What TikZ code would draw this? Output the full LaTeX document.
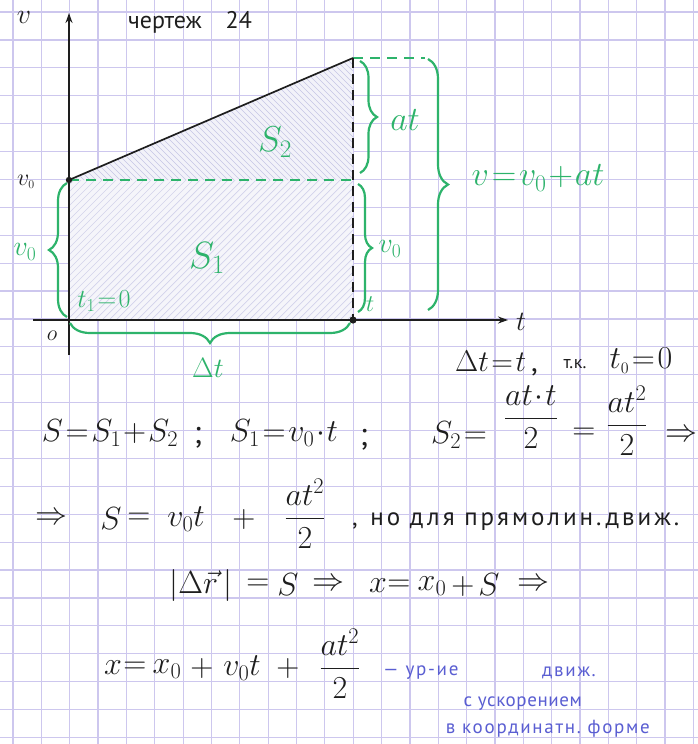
\RequirePackage{fix-cm}
\documentclass[tikz,border=0pt]{standalone}
\usepackage{amsmath}
\usepackage{fontspec}
\setmainfont{PT Sans}
\newfontfamily\bluefont{PT Sans}[LetterSpace=3]
\newfontfamily\bluewide{PT Sans}[LetterSpace=9]
\newfontfamily\handfont{PT Sans}[LetterSpace=12]
\usetikzlibrary{decorations.pathreplacing,arrows.meta}
\definecolor{gridc}{HTML}{CDC7EE}
\definecolor{grn}{HTML}{2DB36B}
\definecolor{bluehand}{HTML}{5A5ED2}
\definecolor{hatchc}{HTML}{A8A8D8}
\definecolor{inkc}{HTML}{1E1E1E}
\newcommand{\fs}[1]{\fontsize{#1}{#1}\selectfont}
\AtBeginDocument{\thickmuskip=1.5mu\medmuskip=1mu}
\begin{document}
\begin{tikzpicture}[x=1pt,y=-1pt,
  gridline/.style={draw=gridc, line width=1.2pt},
  axisline/.style={draw=inkc, line width=1.7pt, -{Stealth[length=10pt,width=7pt]}},
  gbrace/.style={draw=grn, line width=2.2pt, decorate, decoration={brace, amplitude=#1}},
  gdash/.style={draw=grn, line width=2.2pt, dash pattern=on 10pt off 7pt},
  kdash/.style={draw=inkc, line width=1.7pt, dash pattern=on 10pt off 6pt},
  glabel/.style={text=grn, inner sep=0pt},
  klabel/.style={text=inkc, inner sep=0pt},
  fm/.style={text=inkc, inner sep=0pt, font=\fs{32}},
  blabel/.style={text=bluehand, inner sep=0pt, font=\bluefont\fs{19}},
  hatchline/.style={draw=hatchc, line width=0.7pt},
]
\useasboundingbox (0,0) rectangle (698,744);
\fill[white] (0,0) rectangle (698,744);
% grid paper
\foreach \k in {0,...,24} \draw[gridline] ({13+28.35*\k},0) -- ({13+28.35*\k},744);
\foreach \k in {0,...,26} \draw[gridline] (0,{12+27.9*\k}) -- (698,{12+27.9*\k});

% key points
\coordinate (O) at (69,320);
\coordinate (V0) at (69,180);
\coordinate (Top) at (353,58);
\coordinate (B) at (353,180);
\coordinate (T) at (353,320);
\coordinate (TopR) at (425,58);
\coordinate (VS) at (69,355);
\coordinate (VE) at (69,13);
\coordinate (TS) at (33,320);
\coordinate (TE) at (508,320);

% hatching S1
\begin{scope}
\clip (V0) -- (B) -- (T) -- (O) -- cycle;
\fill[hatchc!12] (V0) rectangle (T);
\foreach \i in {-300,-293,...,360} \draw[hatchline, opacity=0.45] (\i,330) -- ++(300,-300);
\end{scope}
% hatching S2
\begin{scope}
\clip (V0) -- (Top) -- (B) -- cycle;
\fill[hatchc!15] (V0) -- (Top) -- (B) -- cycle;
\foreach \i in {-200,-194,...,360} \draw[hatchline, opacity=0.6] (\i,40) -- ++(200,200);
\end{scope}

% graph lines
\draw[gdash] (V0) -- (B);
\draw[gdash] (Top) -- (TopR);
\draw[kdash] (Top) -- (T);
\draw[draw=inkc, line width=1.7pt] (V0) -- (Top);
\draw[axisline] (VS) -- (VE);
\draw[axisline] (TS) -- (TE);
\fill[inkc] (V0) circle (3.2);
\fill[inkc] (T) circle (3.6);

% braces
\draw[gbrace=17pt] (360,61) -- (360,173);
\draw[gbrace=14pt] (358,184) -- (358,312);
\draw[gbrace=20pt] (428,59) -- (428,310);
\draw[gbrace=18pt] (67,317) -- (67,183);
\draw[gbrace=20pt] (350,323) -- (70,323);

% black labels
\node[klabel, font=\fs{28}] (lv) at (24,17) {$v$};
\node[klabel, font=\fs{24}] (title) at (190,22) {чертеж\quad 24};
\node[klabel, font=\fs{24}] (lv0) at (26,182) {$v_{\scriptscriptstyle 0}$};
\node[klabel, font=\fs{22}] (lo) at (52,336) {$o$};
\node[klabel, font=\fs{28}] (lt) at (521,322) {$t$};
\node[klabel, font=\fs{30}, anchor=base west] (dtt1) at (455,371) {$\Delta t=t$\,,};
\node[klabel, font=\fs{18}] (dtt3) at (575,364) {т.к.};
\node[klabel, font=\fs{32}] (dtt4) at (641,361) {$t_{\scriptscriptstyle 0}=0$};

% green labels
\node[glabel, font=\fs{36}] (S2) at (275,142) {$S_2$};
\node[glabel, font=\fs{38}] (S1) at (207,258) {$S_1$};
\node[glabel, font=\fs{34}] (at) at (405,120) {$at$};
\node[glabel, font=\fs{34}] (vfull) at (538,178) {$v=v_0+at$};
\node[glabel, font=\fs{28}] (v0r) at (390,249) {$v_0$};
\node[glabel, font=\fs{28}] (v0l) at (25,252) {$v_0$};
\node[glabel, font=\fs{26}] (t1) at (104,301) {$t_1=0$};
\node[glabel, font=\fs{24}] (tg) at (370,304) {$t$};
\node[glabel, font=\fs{28}] (dt) at (208,368) {$\Delta t$};

% formulas line 1
\node[fm] (f1a) at (110,433) {$S=S_1+S_2$};
\node[fm] (f1b) at (198,438) {;};
\node[fm] (f1c) at (284,433) {$S_1=v_0\cdot t$};
\node[fm] (f1d) at (364,440) {;};
\node[fm] (f1e) at (459,435) {$S_2=$};
\node[fm] (f1f) at (531,417) {$\dfrac{at\cdot t}{2}$};
\node[fm] (f1g) at (584,434) {$=$};
\node[fm] (f1h) at (627,421) {$\dfrac{at^2}{2}$};
\node[fm] (f1i) at (681,436) {$\Rightarrow$};
% line 2
\node[fm] (f2a) at (51,519) {$\Rightarrow$};
\node[fm] (f2b) at (111,519) {$S$};
\node[fm] (f2c) at (139,519) {$=$};
\node[fm] (f2d) at (186,519) {$v_0t$};
\node[fm] (f2e) at (244,519) {$+$};
\node[fm] (f2f) at (305,514) {$\dfrac{at^2}{2}$};
\node[klabel, font=\handfont\fs{25}, anchor=west] (f2g) at (352,522) {,\enspace но для прямолин.\,движ.};
% line 3
\node[fm] (f3a) at (201,585) {$|\Delta\vec{r}\,|$};
\node[fm] (f3b) at (258,585) {$=$};
\node[fm] (f3c) at (288,585) {$S$};
\node[fm] (f3d) at (328,585) {$\Rightarrow$};
\node[fm] (f3e) at (378,586) {$x$};
\node[fm] (f3f) at (399,586) {$=$};
\node[fm] (f3g) at (432,586) {$x_0$};
\node[fm] (f3h) at (463,586) {$+$};
\node[fm] (f3i) at (489,585) {$S$};
\node[fm] (f3j) at (533,585) {$\Rightarrow$};
% line 4
\node[fm] (f4a) at (113,668) {$x$};
\node[fm] (f4b) at (135,668) {$=$};
\node[fm] (f4c) at (167,669) {$x_0$};
\node[fm] (f4d) at (202,668) {$+$};
\node[fm] (f4e) at (242,668) {$v_0t$};
\node[fm] (f4f) at (288,668) {$+$};
\node[fm] (f4g) at (340,664) {$\dfrac{at^2}{2}$};
\node[blabel, font=\bluewide\fs{19}, anchor=west] (b1) at (383,673) {— ур-ие};
\node[blabel, font=\bluewide\fs{19}, anchor=east] (b2) at (596,673) {движ.};
\node[blabel, anchor=east] (b3) at (582,704) {с ускорением};
\node[blabel, font=\bluewide\fs{19}, anchor=east] (b4) at (650,729) {в координатн.\ форме};
\end{tikzpicture}
\end{document}
